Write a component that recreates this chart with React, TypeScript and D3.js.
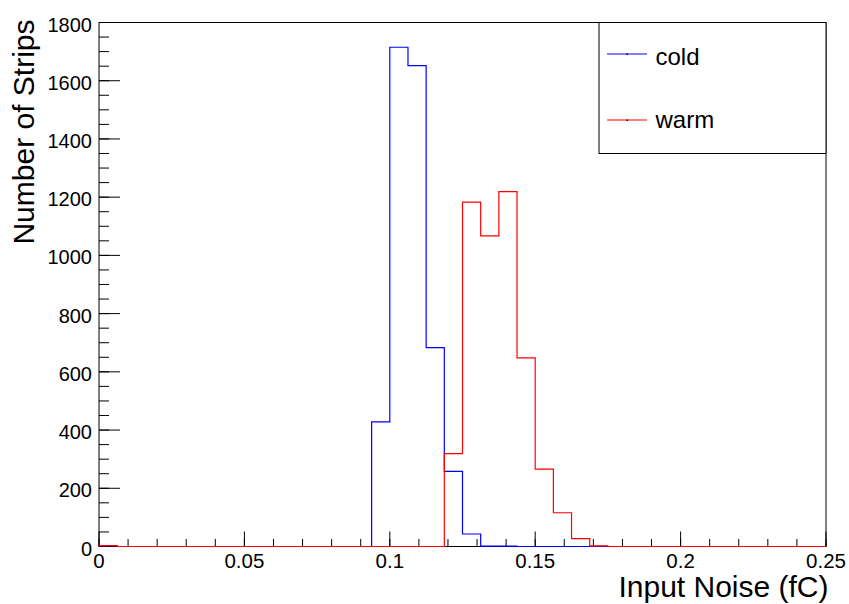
import React from "react";
import * as d3 from "d3";

const binEdges: number[] = d3.range(0, 41).map((i) => i * 0.00625);
// counts per bin (40 bins from 0 to 0.25)
const coldCounts: number[] = [
  3, 0, 0, 0, 0, 0, 0, 0, 0, 0,
  0, 0, 0, 0, 0, 428, 1715, 1652, 683, 258,
  43, 1, 1, 0, 0, 0, 0, 0, 0, 0,
  0, 0, 0, 0, 0, 0, 0, 0, 0, 0,
];
const warmCounts: number[] = [
  3, 0, 0, 0, 0, 0, 0, 0, 0, 0,
  0, 0, 0, 0, 0, 0, 0, 0, 0, 319,
  1183, 1067, 1219, 648, 266, 116, 27, 2, 0, 0,
  0, 0, 0, 0, 0, 0, 0, 0, 0, 0,
];
const xTicks: number[] = [0, 0.05, 0.1, 0.15, 0.2, 0.25];
const yTicks: number[] = [0, 200, 400, 600, 800, 1000, 1200, 1400, 1600, 1800];
const seriesNames: string[] = ["cold", "warm"];
const seriesColors: string[] = ["#0000ff", "#ff0000"];

const W = 849;
const H = 604;
const L = 99;
const R = 826;
const T = 22.5;
const B = 546.5;

export default function App() {
  const x = d3.scaleLinear().domain([0, 0.25]).range([L, R]);
  const y = d3.scaleLinear().domain([0, 1800]).range([B, T]);

  const stepPath = (counts: number[]) => {
    let p = `M${x(binEdges[0])},${y(0)}`;
    counts.forEach((c, i) => {
      p += `L${x(binEdges[i])},${y(c)}L${x(binEdges[i + 1])},${y(c)}`;
    });
    p += `L${x(binEdges[binEdges.length - 1])},${y(0)}`;
    return p;
  };

  const xMinor = d3.range(0, 0.2501, 0.01);
  const yMinor = d3.range(0, 1801, 50);
  const font = "Liberation Sans, Arial, Helvetica, sans-serif";

  return (
    <svg width={W} height={H} style={{ position: "absolute", left: 0, top: 0 }}>
      <rect x={0} y={0} width={W} height={H} fill="#fff" />
      {/* frame */}
      <rect x={L} y={T} width={R - L} height={B - T} fill="none" stroke="#000" strokeWidth={1} />
      {/* x ticks */}
      {xMinor.map((v, i) => (
        <line key={"xm" + i} x1={x(v)} x2={x(v)} y1={B} y2={B - 7.5} stroke="#000" strokeWidth={1} />
      ))}
      {xTicks.map((v, i) => (
        <line key={"xM" + i} x1={x(v)} x2={x(v)} y1={B} y2={B - 15} stroke="#000" strokeWidth={1} />
      ))}
      {/* y ticks */}
      {yMinor.map((v, i) => (
        <line key={"ym" + i} x1={L} x2={L + 10} y1={y(v)} y2={y(v)} stroke="#000" strokeWidth={1} />
      ))}
      {yTicks.map((v, i) => (
        <line key={"yM" + i} x1={L} x2={L + 21} y1={y(v)} y2={y(v)} stroke="#000" strokeWidth={1} />
      ))}
      {/* histograms */}
      <path d={stepPath(coldCounts)} fill="none" stroke={seriesColors[0]} strokeWidth={1.2} />
      <path d={stepPath(warmCounts)} fill="none" stroke={seriesColors[1]} strokeWidth={1.2} />
      {/* tick labels */}
      {xTicks.map((v, i) => (
        <text key={"xl" + i} x={x(v)} y={567.5} textAnchor="middle" fontFamily={font} fontSize={20.5} fill="#000">
          {d3.format("")(v)}
        </text>
      ))}
      {yTicks.map((v, i) => (
        <text key={"yl" + i} x={92} y={y(v) + 9} textAnchor="end" fontFamily={font} fontSize={20} fill="#000">
          {v}
        </text>
      ))}
      {/* axis titles */}
      <text x={828.5} y={596.5} textAnchor="end" fontFamily={font} fontSize={30} fill="#000">
        Input Noise (fC)
      </text>
      <text
        transform={`translate(33.5,${T - 3}) rotate(-90)`}
        textAnchor="end"
        fontFamily={font}
        fontSize={30}
        fill="#000"
      >
        Number of Strips
      </text>
      {/* legend */}
      <rect x={599} y={22.5} width={227} height={131} fill="#fff" stroke="#000" strokeWidth={1} />
      {seriesNames.map((n, i) => (
        <g key={n}>
          <line x1={607} x2={647} y1={54 + i * 66} y2={54 + i * 66} stroke={seriesColors[i]} strokeWidth={1.2} />
          <rect x={626.5} y={53.5 + i * 66} width={1.5} height={1.5} fill="#000" />
          <text x={655.5} y={64.5 + i * 63.5} fontFamily={font} fontSize={24} fill="#000">
            {n}
          </text>
        </g>
      ))}
    </svg>
  );
}
